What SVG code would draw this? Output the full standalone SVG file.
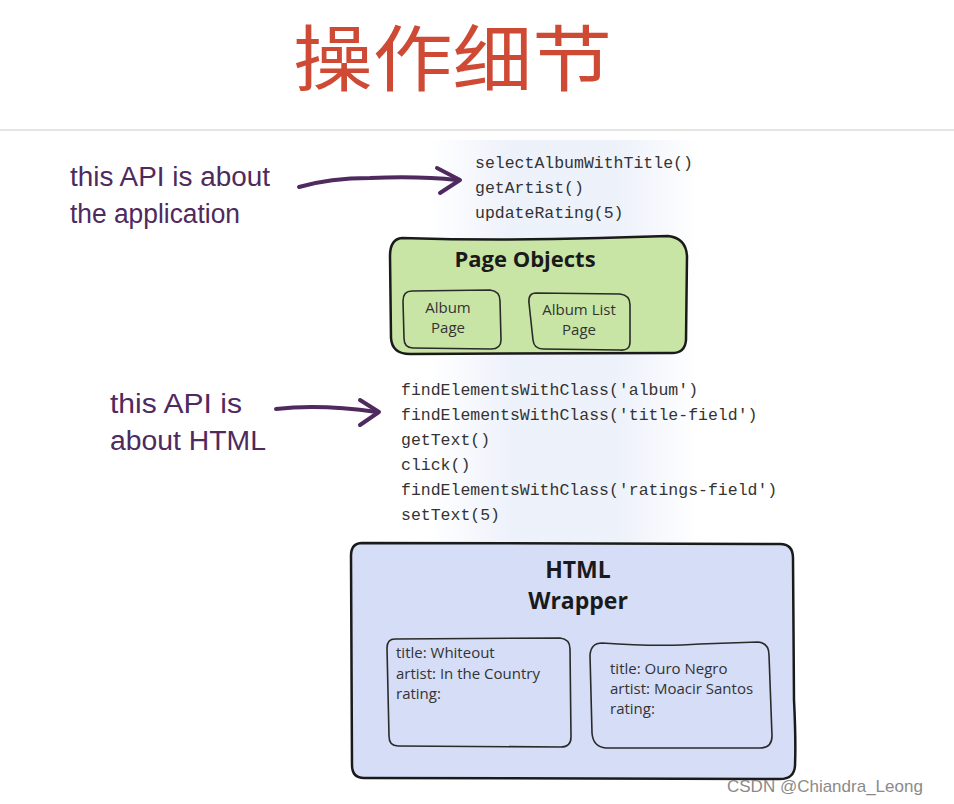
<svg xmlns="http://www.w3.org/2000/svg" width="954" height="804" viewBox="0 0 954 804">
<defs>
<linearGradient id="ghost" x1="0" y1="0" x2="1" y2="0">
<stop offset="0" stop-color="#e9eef9" stop-opacity="0"/>
<stop offset="0.3" stop-color="#e9eef9" stop-opacity="0.8"/>
<stop offset="0.7" stop-color="#e9eef9" stop-opacity="0.8"/>
<stop offset="1" stop-color="#e9eef9" stop-opacity="0"/>
</linearGradient>
</defs>
<style>
.hand{font-family:"Liberation Sans Narrow","Liberation Sans",sans-serif;font-size:27px;fill:#4e2a5e}
.code{font-family:"Liberation Mono","DejaVu Sans Mono",monospace;font-size:16.5px;fill:#333}
.box{stroke:#1a1a1a;stroke-width:2.5;stroke-linejoin:round}
.inner{fill:none;stroke:#2a2a2a;stroke-width:1.6}
.head{font-family:"Open Sans","Noto Sans",sans-serif;font-weight:bold;fill:#1a1a1a;text-anchor:middle}
.lbl{font-family:"Open Sans","Noto Sans",sans-serif;font-size:15px;fill:#333}
.conn{fill:none;stroke:#4e2a5e;stroke-width:4;stroke-linecap:round;stroke-linejoin:round}
</style>
<rect width="954" height="804" fill="#ffffff"/>
<rect x="430" y="140" width="270" height="410" fill="url(#ghost)"/>
<text x="293" y="85" textLength="319" lengthAdjust="spacingAndGlyphs" font-family="'Noto Sans CJK SC','Noto Sans',sans-serif" font-size="72" fill="#cf4a35">操作细节</text>
<line x1="0" y1="130" x2="954" y2="130" stroke="#dcdcdc" stroke-width="1.5"/>
<g id="label-app">
<text class="hand" x="70" y="186" textLength="200" lengthAdjust="spacingAndGlyphs">this API is about</text>
<text class="hand" x="70" y="223" textLength="170" lengthAdjust="spacingAndGlyphs">the application</text>
</g>
<g id="label-html">
<text class="hand" x="110" y="413" textLength="132" lengthAdjust="spacingAndGlyphs">this API is</text>
<text class="hand" x="110" y="450" textLength="156" lengthAdjust="spacingAndGlyphs">about HTML</text>
</g>
<g id="api-app">
<text class="code" x="475" y="168">selectAlbumWithTitle()</text>
<text class="code" x="475" y="193">getArtist()</text>
<text class="code" x="475" y="218">updateRating(5)</text>
</g>
<g id="api-html">
<text class="code" x="401" y="395">findElementsWithClass('album')</text>
<text class="code" x="401" y="420">findElementsWithClass('title-field')</text>
<text class="code" x="401" y="445">getText()</text>
<text class="code" x="401" y="470">click()</text>
<text class="code" x="401" y="495">findElementsWithClass('ratings-field')</text>
<text class="code" x="401" y="520">setText(5)</text>
</g>
<g id="page-objects">
<path class="box" fill="#c9e5a6" d="M402,238 Q500,241 600,238 L668,236 Q686,238 687,256 L686,340 Q685,354 670,353 L410,354 Q392,354 391,338 L390,256 Q390,239 402,238 Z"/>
<text class="head" x="525" y="267" font-size="22">Page Objects</text>
<path class="inner" d="M412,291 L490,290 Q500,291 500,301 L501,340 Q501,349 491,349 L413,348 Q404,348 404,338 L403,301 Q403,291 412,291 Z"/>
<text class="lbl" x="448" y="313" text-anchor="middle">Album</text>
<text class="lbl" x="448" y="333" text-anchor="middle">Page</text>
<path class="inner" d="M536,293 L620,294 Q630,295 630,305 L630,342 Q630,351 620,350 L543,349 Q534,349 533,340 L529,303 Q528,293 536,293 Z"/>
<text class="lbl" x="579" y="315" text-anchor="middle">Album List</text>
<text class="lbl" x="579" y="335" text-anchor="middle">Page</text>
</g>
<g id="html-wrapper">
<path class="box" fill="#d6ddf6" d="M362,543 L780,544 Q793,544 793,558 L794,700 Q796,740 795,766 Q794,779 780,779 L364,778 Q352,778 352,765 L351,556 Q351,543 362,543 Z"/>
<text class="head" x="578" y="578" font-size="23">HTML</text>
<text class="head" x="578" y="609" font-size="23">Wrapper</text>
<path class="inner" d="M395,639 L560,638 Q570,639 570,649 L571,737 Q571,747 561,747 L398,746 Q389,746 389,736 L387,648 Q387,639 395,639 Z"/>
<text class="lbl" x="396" y="658">title: Whiteout</text>
<text class="lbl" x="396" y="679">artist: In the Country</text>
<text class="lbl" x="396" y="699">rating:</text>
<path class="inner" d="M602,643 Q660,647 700,644 L758,642 Q769,643 769,655 L772,736 Q772,748 760,748 L606,748 Q593,747 592,733 L590,655 Q591,643 602,643 Z"/>
<text class="lbl" x="610" y="674">title: Ouro Negro</text>
<text class="lbl" x="610" y="694">artist: Moacir Santos</text>
<text class="lbl" x="610" y="714">rating:</text>
</g>
<g id="connectors">
<path class="conn" d="M299,187 Q330,178 370,178 Q420,176 457,180"/>
<path class="conn" d="M437,168 L460,180 L440,193"/>
<path class="conn" d="M276,409 Q320,404 377,412"/>
<path class="conn" d="M360,400 L379,412 L360,425"/>
</g>
<text x="727" y="792" font-family="'Liberation Sans',sans-serif" font-size="17" fill="#8a8a8a">CSDN @Chiandra_Leong</text>
</svg>
